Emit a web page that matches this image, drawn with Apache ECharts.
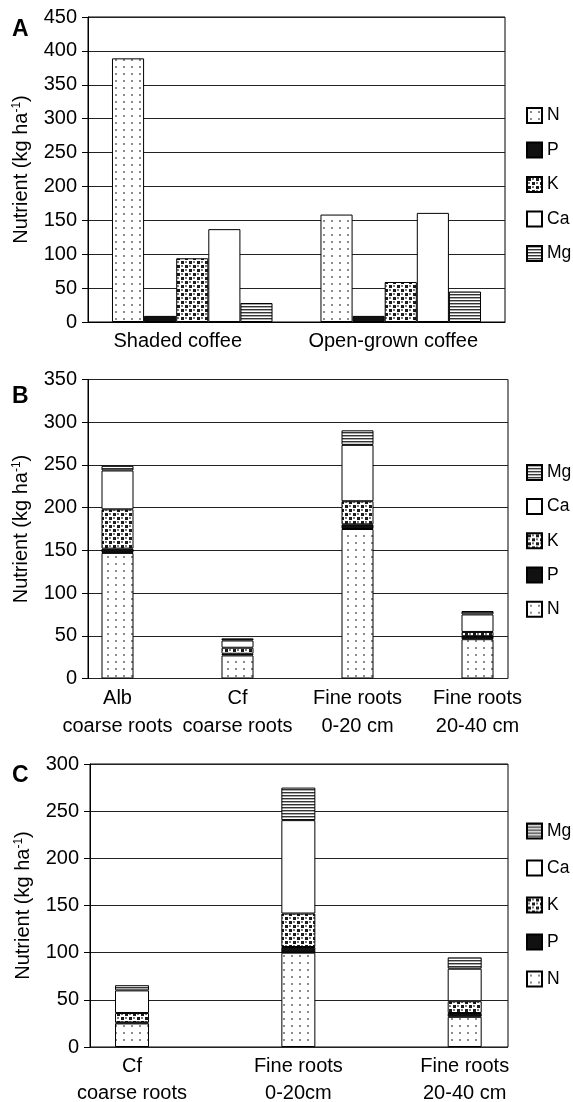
<!DOCTYPE html>
<html><head><meta charset="utf-8">
<script src="https://cdn.jsdelivr.net/npm/echarts@6/dist/echarts.min.js"></script>
<style>html,body{margin:0;padding:0;background:#fff}#c{width:573px;height:1102px}</style>
</head><body><div id="c"></div>
<script>
// ---------- data ----------
const nutrients = ['N', 'P', 'K', 'Ca', 'Mg'];

// Panel A (grouped)
const catsA = ['Shaded coffee', 'Open-grown coffee'];
const aN  = [389, 158.5];
const aP  = [9, 9];
const aK  = [94, 59];
const aCa = [137, 161];
const aMg = [28, 45];
const yMaxA = 450, yStepA = 50;

// Panel B (stacked)
const catsB = ['Alb\ncoarse roots', 'Cf\ncoarse roots', 'Fine roots\n0-20 cm', 'Fine roots\n20-40 cm'];
const bN  = [147, 27, 175, 46];
const bP  = [5, 2, 5.5, 3.5];
const bK  = [46, 7, 27, 5];
const bCa = [45.5, 8.5, 66, 20.5];
const bMg = [5.5, 2.5, 17, 4];
const yMaxB = 350, yStepB = 50;

// Panel C (stacked)
const catsC = ['Cf\ncoarse roots', 'Fine roots\n0-20cm', 'Fine roots\n20-40 cm'];
const cN  = [25, 100, 32];
const cP  = [1, 6, 4];
const cK  = [10, 35.5, 12.5];
const cCa = [24, 99, 34.5];
const cMg = [5.5, 34.5, 12];
const yMaxC = 300, yStepC = 50;

const yName = 'Nutrient (kg ha{s|-1})';
const panelLetters = ['A', 'B', 'C'];

// ---------- styles ----------
const FONT = '"Liberation Sans", Arial, Helvetica, sans-serif';
function pat(w, h, draw) {
  const c = document.createElement('canvas');
  c.width = w; c.height = h;
  const g = c.getContext('2d');
  g.fillStyle = '#fff'; g.fillRect(0, 0, w, h);
  draw(g);
  return { image: c, repeat: 'repeat' };
}
const fills = {
  N: pat(8, 7, g => { g.fillStyle = '#8c8c8c'; g.fillRect(3, 3, 2, 2); }),
  P: '#111',
  K: pat(8, 8, g => {
    g.fillStyle = '#1a1a1a'; g.fillRect(1, 1, 3, 3); g.fillRect(5, 5, 3, 3);
    g.fillStyle = '#777'; g.fillRect(5, 1, 2, 2); g.fillRect(1, 5, 2, 2);
  }),
  Ca: '#fff',
  Mg: pat(4, 3, g => { g.fillStyle = '#333'; g.fillRect(0, 0, 4, 1); g.fillStyle = '#aaa'; g.fillRect(0, 1, 4, 1); })
};
const itemStyleOf = n => ({ color: fills[n], borderColor: '#000', borderWidth: 1 });

const gridBase = { outerBoundsMode: 'none', containLabel: false };
const gridsPos = [
  { left: 88, top: 17, width: 417, height: 305, show: true, borderColor: '#000', borderWidth: 1 },      // A
  { left: 88, top: 379.5, width: 420, height: 299, show: true, borderColor: '#000', borderWidth: 1 },   // B frame
  { left: 57.5, top: 379.5, width: 480, height: 299, show: false },                                  // B bars
  { left: 90, top: 764, width: 418, height: 283, show: true, borderColor: '#000', borderWidth: 1 },     // C frame
  { left: 48.85, top: 764, width: 499, height: 283, show: false }                                    // C bars
].map(g => Object.assign({}, gridBase, g));

function frameY(gi, max, step) {
  return {
    type: 'value', gridIndex: gi, min: 0, max: max, interval: step,
    axisLine: { show: true, lineStyle: { color: '#000', width: 1 } },
    axisTick: { show: true, length: 6, lineStyle: { color: '#000' } },
    axisLabel: { fontSize: 20, color: '#000', fontFamily: FONT, margin: 11 },
    splitLine: { show: true, lineStyle: { color: '#222', width: 1 } },
    name: yName, nameLocation: 'middle', nameGap: 47, nameRotate: 90,
    nameTextStyle: { fontSize: 20, color: '#000', fontFamily: FONT, lineHeight: 22,
      rich: { s: { fontSize: 12, color: '#000', fontFamily: FONT, verticalAlign: 'top', lineHeight: 12 } } }
  };
}
function hiddenY(gi, max) { return { type: 'value', gridIndex: gi, min: 0, max: max, show: false, splitLine: { show: false } }; }
function catX(gi, cats, lh, margin, extra) {
  const lab = Object.assign({ fontSize: 20, color: '#000', fontFamily: FONT, lineHeight: lh, margin: margin, interval: 0 }, extra || {});
  return {
    type: 'category', gridIndex: gi, data: cats,
    axisLine: { show: gi === 0, lineStyle: { color: '#000' } },
    axisTick: { show: false },
    axisLabel: lab,
    splitLine: { show: false }
  };
}
function hiddenX(gi) { return { type: 'value', gridIndex: gi, min: 0, max: 1, show: false, splitLine: { show: false } }; }

// Panel A labels sit slightly left of their groups in the reference
const aLabelExtra = {
  formatter: (v, i) => '{l' + i + '|' + v + '}',
  rich: {
    l0: { fontSize: 20, fontFamily: FONT, color: '#000', padding: [0, 29, 0, 0] },
    l1: { fontSize: 20, fontFamily: FONT, color: '#000', padding: [0, 15, 0, 0] }
  }
};

const series = [];
const dataA = { N: aN, P: aP, K: aK, Ca: aCa, Mg: aMg };
const dataB = { N: bN, P: bP, K: bK, Ca: bCa, Mg: bMg };
const dataC = { N: cN, P: cP, K: cK, Ca: cCa, Mg: cMg };
nutrients.forEach(n => series.push({
  name: n, type: 'bar', xAxisIndex: 0, yAxisIndex: 0, data: dataA[n],
  barGap: '0%', barCategoryGap: '23%', itemStyle: itemStyleOf(n)
}));
nutrients.forEach(n => series.push({
  name: n, type: 'bar', xAxisIndex: 2, yAxisIndex: 2, data: dataB[n],
  stack: 'B', barWidth: 32, itemStyle: itemStyleOf(n)
}));
nutrients.forEach(n => series.push({
  name: n, type: 'bar', xAxisIndex: 4, yAxisIndex: 4, data: dataC[n],
  stack: 'C', barWidth: 34, itemStyle: itemStyleOf(n)
}));

function legendAt(top, gap, order) {
  return {
    orient: 'vertical', left: 521, top: top, itemGap: gap, itemWidth: 15, itemHeight: 15,
    selectedMode: false, icon: 'rect', data: order,
    textStyle: { fontSize: 17.5, color: '#000', fontFamily: FONT, lineHeight: 18 }
  };
}
const revOrder = nutrients.slice().reverse();

const letterY = [29.5, 397, 776];
const option = {
  animation: false,
  backgroundColor: '#fff',
  grid: gridsPos,
  xAxis: [catX(0, catsA, 24, 7, aLabelExtra), hiddenX(1), catX(2, catsB, 28, 6), hiddenX(3), catX(4, catsC, 27, 6)],
  yAxis: [frameY(0, yMaxA, yStepA), frameY(1, yMaxB, yStepB), hiddenY(2, yMaxB), frameY(3, yMaxC, yStepC), hiddenY(4, yMaxC)],
  legend: [legendAt(101.5, 16.5, nutrients), legendAt(458.4, 16.2, revOrder), legendAt(817, 19, revOrder)],
  graphic: panelLetters.map((t, i) => ({
    type: 'text', x: 12, y: letterY[i],
    style: { text: t, font: 'bold 23px ' + FONT, fill: '#000', verticalAlign: 'middle', align: 'left' }
  })),
  series: series
};
const chart = echarts.init(document.getElementById('c'), null, { renderer: 'canvas' });
chart.setOption(option);
</script></body></html>
